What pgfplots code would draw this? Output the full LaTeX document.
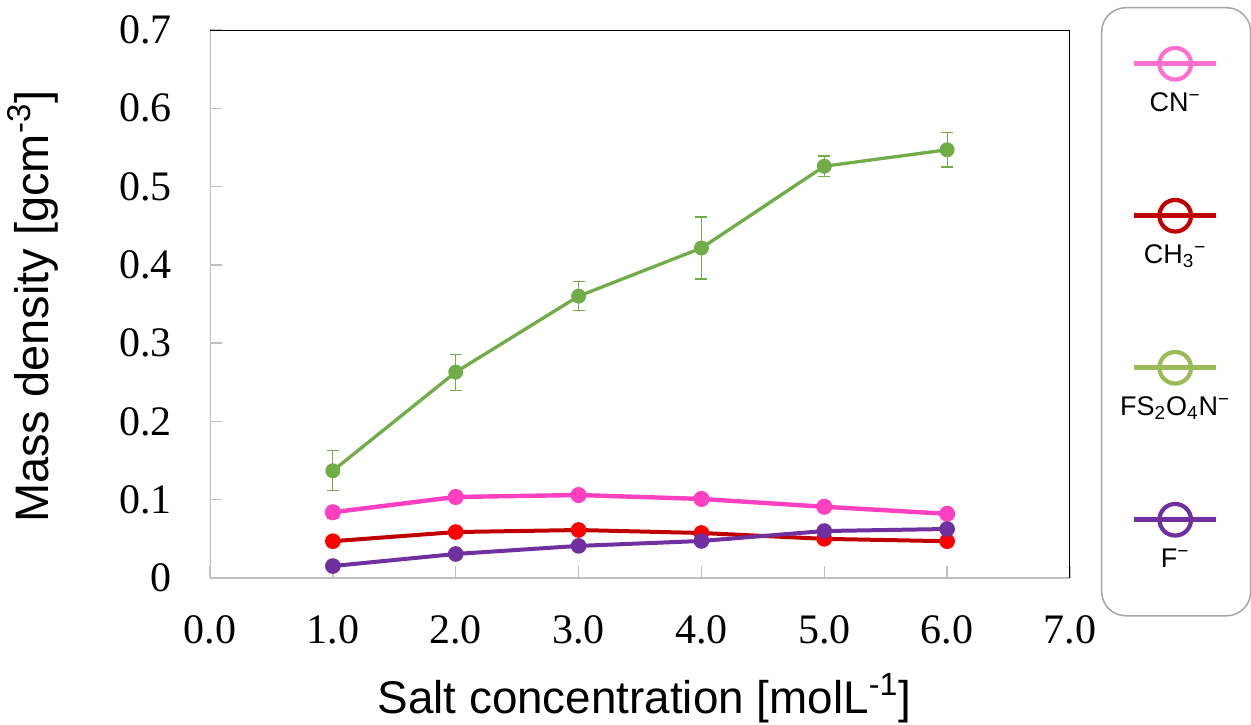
\documentclass[border=0pt]{standalone}
\usepackage{fontspec}
\setmainfont{Liberation Serif}
\newfontfamily\arial{Liberation Sans}
\usepackage{pgfplots}
\pgfplotsset{compat=1.18}
\usepackage{pgfplotstable}

\definecolor{cgreen}{HTML}{70AD47}
\definecolor{cpink}{HTML}{FF40C0}
\definecolor{credline}{HTML}{C00000}
\definecolor{credmark}{HTML}{FF0000}
\definecolor{cpurple}{HTML}{7030A0}
\definecolor{lpink}{HTML}{FF6FD0}
\definecolor{lred}{HTML}{C00000}
\definecolor{lgreen}{HTML}{9BBB59}
\definecolor{lpurple}{HTML}{7030A0}
\definecolor{tickgray}{HTML}{BFBFBF}
\definecolor{leggray}{HTML}{A6A6A6}

\newcommand\ticfont{\fontsize{21}{24}\selectfont}
\newcommand\labfont{\arial\fontsize{23.5}{27}\selectfont}
\newcommand\xlabfont{\arial\fontsize{22.9}{27}\selectfont}
\newcommand\legfont{\arial\fontsize{13.5}{15}\selectfont}

\pgfplotstableread{
x y e
1 0.084 0.007
2 0.1035 0.006
3 0.106 0.005
4 0.101 0.005
5 0.091 0.003
6 0.082 0.003
}\pinkdata
\pgfplotstableread{
x y
1 0.047
2 0.0587
3 0.0613
4 0.0575
5 0.050
6 0.047
}\reddata
\pgfplotstableread{
x y
1 0.0153
2 0.0307
3 0.041
4 0.0473
5 0.060
6 0.0626
}\purpledata
\pgfplotstableread{
x y e
1 0.137 0.0255
2 0.263 0.023
3 0.360 0.0185
4 0.4215 0.0396
5 0.526 0.013
6 0.547 0.022
}\greendata

\pgfplotsset{
  legglyph/.style 2 args={legend image code/.code={
     \path[draw=none, fill=none, sharp corners] (-36.75pt,-48pt) rectangle (36.75pt,28pt);
     \draw[sharp corners, line width=2.6pt, #1] (-20.5pt,0pt) -- (20.5pt,0pt);
     \draw[line width=2.1pt, #1] (0,0) circle (7.9pt);
     \node[font=\legfont, text=black, draw=none, fill=none, inner sep=0pt, anchor=center] at (0,-20pt) {#2};
  }}
}

\begin{document}
\begin{tikzpicture}
\path[use as bounding box] (0,0) rectangle (625.5pt,362pt);
\begin{axis}[
  at={(105pt,73pt)}, anchor=south west,
  scale only axis, width=430pt, height=274pt,
  xmin=0, xmax=7, ymin=0, ymax=0.7,
  xtick={0,1,2,3,4,5,6,7},
  ytick={0,0.1,0.2,0.3,0.4,0.5,0.6,0.7},
  axis line style={draw=none},
  tick align=inside, major tick length=6pt,
  tick style={color=tickgray, line width=0.75pt},
  xtick pos=lower, ytick pos=left,
  /pgf/number format/assume math mode=true,
  ticklabel style={font=\ticfont, inner sep=0pt},
  xticklabel style={/pgf/number format/.cd, fixed, fixed zerofill, precision=1, /tikz/.cd, anchor=north, yshift=-18.5pt},
  yticklabel style={anchor=east, xshift=-19pt},
  xlabel={Salt concentration [molL\textsuperscript{-1}]},
  ylabel={Mass density [gcm\textsuperscript{-3}]},
  xlabel style={font=\xlabfont, at={(axis description cs:0.505,-0.248)}, anchor=base},
  ylabel style={font=\labfont, at={(axis description cs:-0.188,0.495)}, anchor=base, rotate=0},
  legend style={at={(1.036,1.042)}, anchor=north west, draw=leggray, line width=0.75pt,
    rounded corners=12pt, inner sep=0pt, row sep=0pt, column sep=0pt,
    nodes={inner sep=0pt, draw=none}, cells={anchor=center}},
]
\draw[tickgray, line width=1pt] (rel axis cs:0,1) -- (rel axis cs:0,0) -- (rel axis cs:1,0);
\draw[black, line width=0.9pt] (rel axis cs:0,1) -- (rel axis cs:1,1) -- (rel axis cs:1,0);

\addplot[forget plot, cpink, line width=2.2pt, mark=*, mark size=2.9pt, mark options={solid, fill=cpink, draw=cpink},
  error bars/.cd, y dir=both, y explicit, error bar style={line width=1pt, cpink},
  error mark options={rotate=90, mark size=3pt, line width=1pt, cpink}]
  table[x=x, y=y, y error=e] {\pinkdata};
\addplot[forget plot, credline, line width=2pt, mark=*, mark size=2.9pt, mark options={solid, fill=credmark, draw=credmark}]
  table[x=x, y=y] {\reddata};
\addplot[forget plot, cpurple, line width=2pt, mark=*, mark size=2.9pt, mark options={solid, fill=cpurple, draw=cpurple}]
  table[x=x, y=y] {\purpledata};
\addplot[forget plot, cgreen, line width=1.65pt, mark=*, mark size=2.9pt, mark options={solid, fill=cgreen, draw=cgreen},
  error bars/.cd, y dir=both, y explicit, error bar style={line width=0.6pt, cgreen},
  error mark options={rotate=90, mark size=3pt, line width=0.6pt, cgreen}]
  table[x=x, y=y, y error=e] {\greendata};

\addlegendimage{legglyph={lpink}{CN\textsuperscript{−}}}
\addlegendentry{}
\addlegendimage{legglyph={lred}{CH\textsubscript{3}\textsuperscript{−}}}
\addlegendentry{}
\addlegendimage{legglyph={lgreen}{FS\textsubscript{2}O\textsubscript{4}N\textsuperscript{−}}}
\addlegendentry{}
\addlegendimage{legglyph={lpurple}{F\textsuperscript{−}}}
\addlegendentry{}
\end{axis}
\end{tikzpicture}
\end{document}
